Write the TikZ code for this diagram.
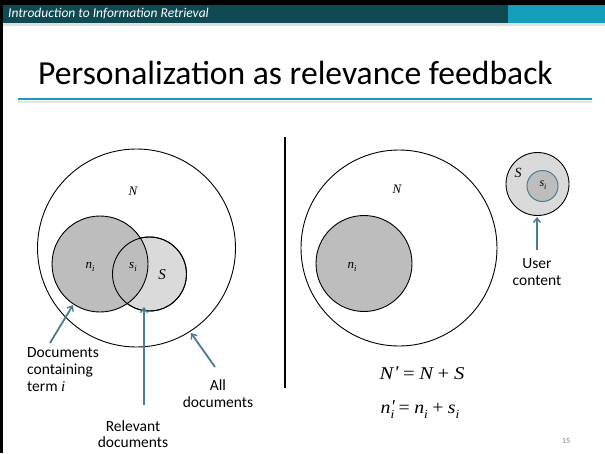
\documentclass[tikz,border=0pt]{standalone}
\usepackage{fontspec}
\setmainfont{Carlito}
\newfontfamily\tms{Liberation Serif}
\usetikzlibrary{arrows.meta}
\newcommand\subsc[1]{\raisebox{-0.28em}{\scalebox{0.68}{#1}}}
\newcommand\vi[2]{{\tms\itshape\fontsize{#1}{#1}\selectfont #2}}
\definecolor{hdark}{HTML}{0F4A53}
\definecolor{hlight}{HTML}{139EBA}
\definecolor{tline}{HTML}{1C9BB8}
\definecolor{arr}{HTML}{4A7D93}
\definecolor{gdark}{HTML}{BDBDBD}
\definecolor{glight}{HTML}{DADADA}
\begin{document}
\begin{tikzpicture}[x=1pt,y=-1pt,
  circ/.style={circle,draw=black,line width=0.9pt,inner sep=0pt},
  lbl/.style={font=\fontsize{15.5}{17}\selectfont,align=center,inner sep=0pt},
  pointer/.style={draw=arr,line width=1.8pt,-{Straight Barb[length=4.5pt,width=7pt,line width=1.4pt]}},
  mlabel/.style={inner sep=0pt}]
\useasboundingbox (0,0) rectangle (605,453);
\fill[white] (0,0) rectangle (605,453);
% header
\fill[black] (0,0) rectangle (605,5);
\fill[gray!25] (0,23) rectangle (605,26);
\fill[hdark] (0,5) rectangle (508,23);
\fill[hlight] (508,5) rectangle (605,23);
\fill[black] (0,0) rectangle (2.5,453);
\node[mlabel,anchor=west,text=white,font=\fontsize{13.5}{14}\selectfont\itshape] (hdr) at (8,14) {Introduction to Information Retrieval};
% title
\node[mlabel,anchor=base west,font=\fontsize{33.6}{38}\selectfont] (title) at (38,84) {Personalization as relevance feedback};
\fill[gray!20] (18,100.5) rectangle (592,103);
\draw[tline,line width=2pt] (18,99) -- (592,99);
% left panel
\node[circ,minimum size=198pt] (all) at (136.5,248) {};
\node[circ,fill=glight,minimum size=74pt] (S) at (149.5,274) {};
\node[circ,fill=gdark,minimum size=96pt] (ni) at (100,264) {};
\draw[line width=0.9pt] (149.5,274) circle (37pt);
\node[mlabel] (Nl) at (133,191) {\vi{13}{N}};
\node[mlabel] (nil) at (90,267) {\vi{13}{n\subsc{i}}};
\node[mlabel] (sil) at (133,267) {\vi{13}{s\subsc{i}}};
\node[mlabel] (Sl) at (162,275) {\vi{15}{S}};
% labels
\node[lbl,align=left,anchor=north west] (docs) at (27,347) {Documents\\containing\\term \vi{15}{i}};
\node[lbl,anchor=north] (alld) at (218,380) {All\\documents};
\node[lbl,anchor=north,font=\fontsize{15.5}{16}\selectfont] (rel) at (133,421) {Relevant\\documents};
\coordinate (a1t) at (50,343);
\coordinate (a1h) at (73,305);
\coordinate (a2t) at (144,405);
\coordinate (a2h) at (144,307);
\coordinate (a3t) at (215,367);
\coordinate (a3h) at (191,333);
\draw[pointer] (a1t) -- (a1h);
\draw[pointer] (a2t) -- (a2h);
\draw[pointer] (a3t) -- (a3h);
% divider
\coordinate (d1) at (285,137);
\coordinate (d2) at (285,388);
\draw[line width=1.3pt] (d1) -- (d2);
% right panel
\node[circ,minimum size=196pt] (all2) at (399,248) {};
\node[circ,fill=gdark,minimum size=96pt] (ni2) at (364,263.5) {};
\node[mlabel] (N2) at (397,189) {\vi{13}{N}};
\node[mlabel] (ni2l) at (352,267) {\vi{13}{n\subsc{i}}};
\node[circ,fill=glight,minimum size=63pt] (S2) at (537.5,184) {};
\node[circle,draw=arr,line width=1pt,fill=gdark,minimum size=31pt,inner sep=0pt] (si2) at (542.5,186) {};
\node[mlabel] (S2l) at (518,173) {\vi{14}{S}};
\node[mlabel] (si2l) at (543,185) {\vi{12}{s\subsc{i}}};
\node[lbl,anchor=north] (user) at (537,258) {User\\content};
\coordinate (a4t) at (537,250);
\coordinate (a4h) at (537,217);
\draw[pointer] (a4t) -- (a4h);
% formulas
\node[mlabel,anchor=base] (f1) at (422,379) {\scalebox{1.15}[1]{\vi{18}{N\kern0.5pt\raisebox{0.05em}{'}\kern4pt{\upshape=}\kern4pt N\kern4pt{\upshape+}\kern4pt S}}};
\node[mlabel,anchor=base] (f2) at (420,413) {\scalebox{1.1}[1]{\vi{18}{n\makebox[0pt][l]{\raisebox{0.05em}{'}}\subsc{i}\kern4pt{\upshape=}\kern4pt n\subsc{i}\kern4pt{\upshape+}\kern4pt s\subsc{i}}}};
\node[mlabel,text=gray,font=\fontsize{8}{8}\selectfont] (pg) at (566,441) {15};
\end{tikzpicture}
\end{document}
